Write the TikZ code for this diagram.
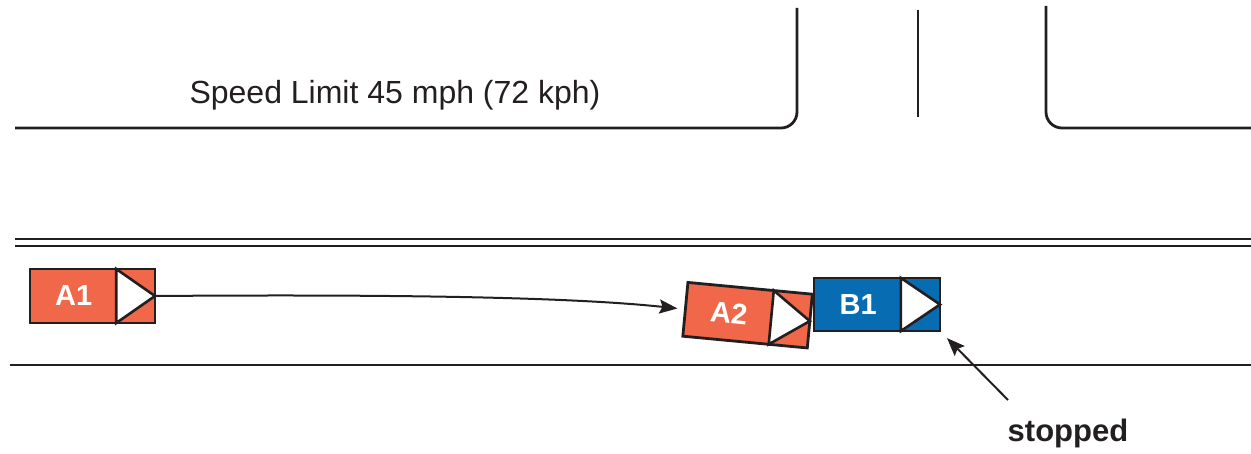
\documentclass[tikz,border=0pt]{standalone}
\usepackage{fontspec}
\setmainfont{Liberation Sans}
\usetikzlibrary{arrows.meta,calc}
\definecolor{ink}{RGB}{35,31,32}
\definecolor{carorange}{RGB}{240,104,73}
\definecolor{carblue}{RGB}{8,108,178}
\tikzset{
  road/.style={draw=ink,line width=2.8pt,rounded corners=16pt},
  carbody/.style={draw=ink,line width=2.8pt,minimum width=125pt,minimum height=54pt,inner sep=0pt,outer sep=0pt},
  carline/.style={draw=ink,line width=2.6pt,line join=miter},
  carlabel/.style={text=white,font=\fontsize{29}{32}\selectfont\bfseries,inner sep=0pt},
  flow/.style={draw=ink,line width=2pt,-{Stealth[length=18pt,width=14pt,inset=3pt]}},
}
\newcommand\drawcar[3]{% name, angle, label
  \draw[carline,fill=white] ($(#1.north west)!0.69!(#1.north east)$) -- (#1.east) -- ($(#1.south west)!0.69!(#1.south east)$) -- cycle;
  \node[carlabel,rotate=#2] (#1lbl) at ($(#1.west)!0.35!(#1.east)$) {#3};
}
\begin{document}
\begin{tikzpicture}[x=1pt,y=-1pt]
\useasboundingbox (0,0) rectangle (1251,454);
% roads
\draw[road] (15,128) -- (797,128) -- (797,8);
\draw[road] (1046,6) -- (1046,128) -- (1251,128);
\draw[road] (918,10) -- (918,117);
\draw[road] (15,239) -- (1251,239);
\draw[road] (15,246) -- (1251,246);
\draw[road] (10,365) -- (1251,365);
\node[anchor=base,text=ink,font=\fontsize{32}{36}\selectfont,inner sep=0pt] (speed) at (395,104) {Speed Limit 45 mph (72 kph)};
% cars
\node[carbody,fill=carorange] (A1) at (92.5,296) {};
\drawcar{A1}{0}{A1}
\node[carbody,fill=carorange,rotate=-5.4] (A2) at (747.6,315.2) {};
\drawcar{A2}{-5.4}{A2}
\node[carbody,fill=carblue,minimum width=126pt,minimum height=53pt] (B1) at (877,304.5) {};
\drawcar{B1}{0}{B1}
% movement
\draw[flow,shorten >=8pt] (A1.east) .. controls (420,294) and (580,298) .. (A2.west);
% stopped
\node[anchor=base,text=ink,font=\fontsize{31}{36}\selectfont\bfseries,inner sep=0pt] (stopped) at (1068,442) {stopped};
\coordinate (stoptail) at (1008,400);
\draw[flow,shorten >=10pt] (stoptail) -- (B1.south east);
\end{tikzpicture}
\end{document}
